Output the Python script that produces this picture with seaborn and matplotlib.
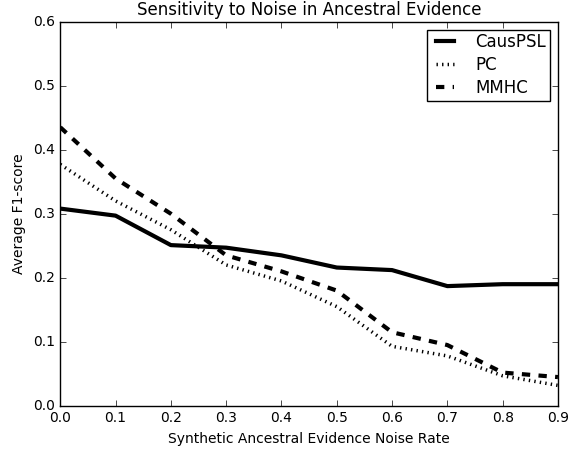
import numpy as np
import pandas as pd
import seaborn as sns
import matplotlib.pyplot as plt

plt.style.use('classic')

noise = [0.0, 0.1, 0.2, 0.3, 0.4, 0.5, 0.6, 0.7, 0.8, 0.9]
causpsl = [0.308, 0.297, 0.251, 0.247, 0.235, 0.216, 0.212, 0.187, 0.190, 0.190]
pc = [0.377, 0.320, 0.275, 0.220, 0.195, 0.155, 0.093, 0.078, 0.047, 0.032]
mmhc = [0.435, 0.355, 0.300, 0.235, 0.210, 0.180, 0.115, 0.095, 0.052, 0.045]

fig, ax = plt.subplots(figsize=(5.74, 4.49), dpi=100)
fig.patch.set_facecolor('white')

sns.lineplot(x=noise, y=causpsl, ax=ax, color='black', lw=3, label='CausPSL')
sns.lineplot(x=noise, y=pc, ax=ax, color='black', lw=2.5, linestyle=':', label='PC')
sns.lineplot(x=noise, y=mmhc, ax=ax, color='black', lw=3, linestyle='--', label='MMHC')

ax.set_xlim(0, 0.9)
ax.set_ylim(0, 0.6)
ax.set_xticks(np.arange(0, 0.91, 0.1))
ax.set_yticks(np.arange(0, 0.61, 0.1))
ax.tick_params(labelsize=10)
ax.set_xlabel('Synthetic Ancestral Evidence Noise Rate', fontsize=10)
ax.set_ylabel('Average F1-score', fontsize=10)
ax.set_title('Sensitivity to Noise in Ancestral Evidence', fontsize=12)
ax.legend(loc='upper right', fontsize=12, handlelength=1.7, labelspacing=0.3,
          borderpad=0.2, handletextpad=1.0)

plt.subplots_adjust(left=0.105, right=0.972, top=0.952, bottom=0.096)
plt.savefig('out.png', dpi=100, facecolor='white')
